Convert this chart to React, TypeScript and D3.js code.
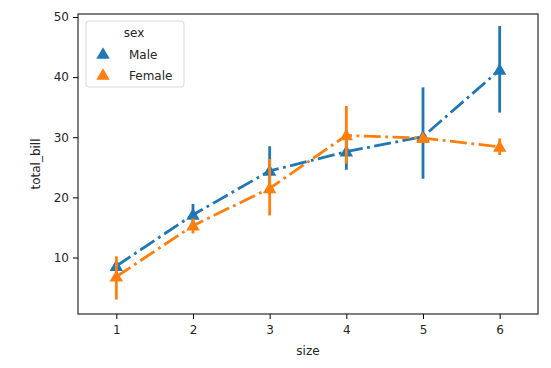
import React, { useEffect, useRef } from 'react';
import * as d3 from 'd3';

const W = 551;
const H = 368;
const margin = { top: 14, right: 13, bottom: 54, left: 78 };

const sizes = ['1', '2', '3', '4', '5', '6'];
const maleMean = [8.58, 17.1, 24.4, 27.6, 30.1, 41.2];
const maleLo = [8.58, 15.5, 20.6, 24.6, 23.1, 34.1];
const maleHi = [8.58, 18.9, 28.5, 31.2, 38.3, 48.5];
const femaleMean = [6.8, 15.3, 21.5, 30.3, 29.85, 28.4];
const femaleLo = [3.0, 14.0, 17.0, 25.6, 29.85, 27.05];
const femaleHi = [10.2, 16.5, 26.4, 35.2, 29.85, 29.8];
const yTicks = [10, 20, 30, 40, 50];

const series = [
  { name: 'Male', color: '#1f77b4', mean: maleMean, lo: maleLo, hi: maleHi },
  { name: 'Female', color: '#ff7f0e', mean: femaleMean, lo: femaleLo, hi: femaleHi },
];

const font = 'DejaVu Sans, sans-serif';

export default function App() {
  const ref = useRef<SVGSVGElement>(null);

  useEffect(() => {
    const svg = d3.select(ref.current);
    svg.selectAll('*').remove();

    const x = d3
      .scaleLinear()
      .domain([-0.5, 5.5])
      .range([margin.left, W - margin.right]);
    const y = d3
      .scaleLinear()
      .domain([0.6, 50.5])
      .range([H - margin.bottom, margin.top]);

    svg.append('rect').attr('width', W).attr('height', H).attr('fill', '#fff');

    // series
    const tri = d3.symbol().type(d3.symbolTriangle).size(78);
    series.forEach(s => {
      const g = svg.append('g');
      const line = d3
        .line<number>()
        .x((d, i) => x(i))
        .y(d => y(d));
      g.append('path')
        .datum(s.mean)
        .attr('d', line)
        .attr('fill', 'none')
        .attr('stroke', s.color)
        .attr('stroke-width', 2.8)
        .attr('stroke-dasharray', '17,4.5,2.8,4.5');
      sizes.forEach((c, i) => {
        if (s.hi[i] - s.lo[i] > 0.01) {
          g.append('line')
            .attr('x1', x(i))
            .attr('x2', x(i))
            .attr('y1', y(s.lo[i]))
            .attr('y2', y(s.hi[i]))
            .attr('stroke', s.color)
            .attr('stroke-width', 2.8);
        }
      });
      g.selectAll('path.pt')
        .data(s.mean)
        .enter()
        .append('path')
        .attr('class', 'pt')
        .attr('d', tri)
        .attr('transform', (d, i) => `translate(${x(i)},${y(d) + 1})`)
        .attr('fill', s.color);
    });

    // frame
    svg
      .append('rect')
      .attr('x', margin.left)
      .attr('y', margin.top)
      .attr('width', W - margin.left - margin.right)
      .attr('height', H - margin.top - margin.bottom)
      .attr('fill', 'none')
      .attr('stroke', '#000')
      .attr('stroke-width', 1);

    // axes
    const xAxis = svg
      .append('g')
      .attr('transform', `translate(0,${H - margin.bottom})`)
      .call(
        d3
          .axisBottom(x)
          .tickValues(d3.range(6))
          .tickFormat(i => sizes[+i])
          .tickSize(5)
          .tickPadding(6)
      );
    const yAxis = svg
      .append('g')
      .attr('transform', `translate(${margin.left},0)`)
      .call(d3.axisLeft(y).tickValues(yTicks).tickSize(5).tickPadding(4));
    [xAxis, yAxis].forEach(a => {
      a.select('.domain').remove();
      a.selectAll('text').attr('font-family', font).attr('font-size', 12).attr('fill', '#262626');
      a.selectAll('line').attr('stroke', '#000');
    });

    svg
      .append('text')
      .attr('x', (margin.left + W - margin.right) / 2)
      .attr('y', 355)
      .attr('text-anchor', 'middle')
      .attr('font-family', font)
      .attr('font-size', 12)
      .attr('fill', '#262626')
      .text('size');
    svg
      .append('text')
      .attr('transform', `translate(40,${(margin.top + H - margin.bottom) / 2}) rotate(-90)`)
      .attr('text-anchor', 'middle')
      .attr('font-family', font)
      .attr('font-size', 12)
      .attr('fill', '#262626')
      .text('total_bill');

    // legend
    const lg = svg.append('g').attr('transform', 'translate(86,21)');
    lg.append('rect')
      .attr('width', 98)
      .attr('height', 66)
      .attr('rx', 3)
      .attr('fill', '#fff')
      .attr('fill-opacity', 0.8)
      .attr('stroke', '#d9d9d9');
    lg.append('text')
      .attr('x', 48)
      .attr('y', 16)
      .attr('text-anchor', 'middle')
      .attr('font-family', font)
      .attr('font-size', 12)
      .attr('fill', '#262626')
      .text('sex');
    series.forEach((s, i) => {
      lg.append('path')
        .attr('d', tri)
        .attr('transform', `translate(17,${34 + i * 21})`)
        .attr('fill', s.color);
      lg.append('text')
        .attr('x', 43)
        .attr('y', 38 + i * 21)
        .attr('font-family', font)
        .attr('font-size', 12)
        .attr('fill', '#262626')
        .text(s.name);
    });
  }, []);

  return (
    <svg
      ref={ref}
      width={W}
      height={H}
      style={{ position: 'absolute', left: 0, top: 0, display: 'block' }}
    />
  );
}
